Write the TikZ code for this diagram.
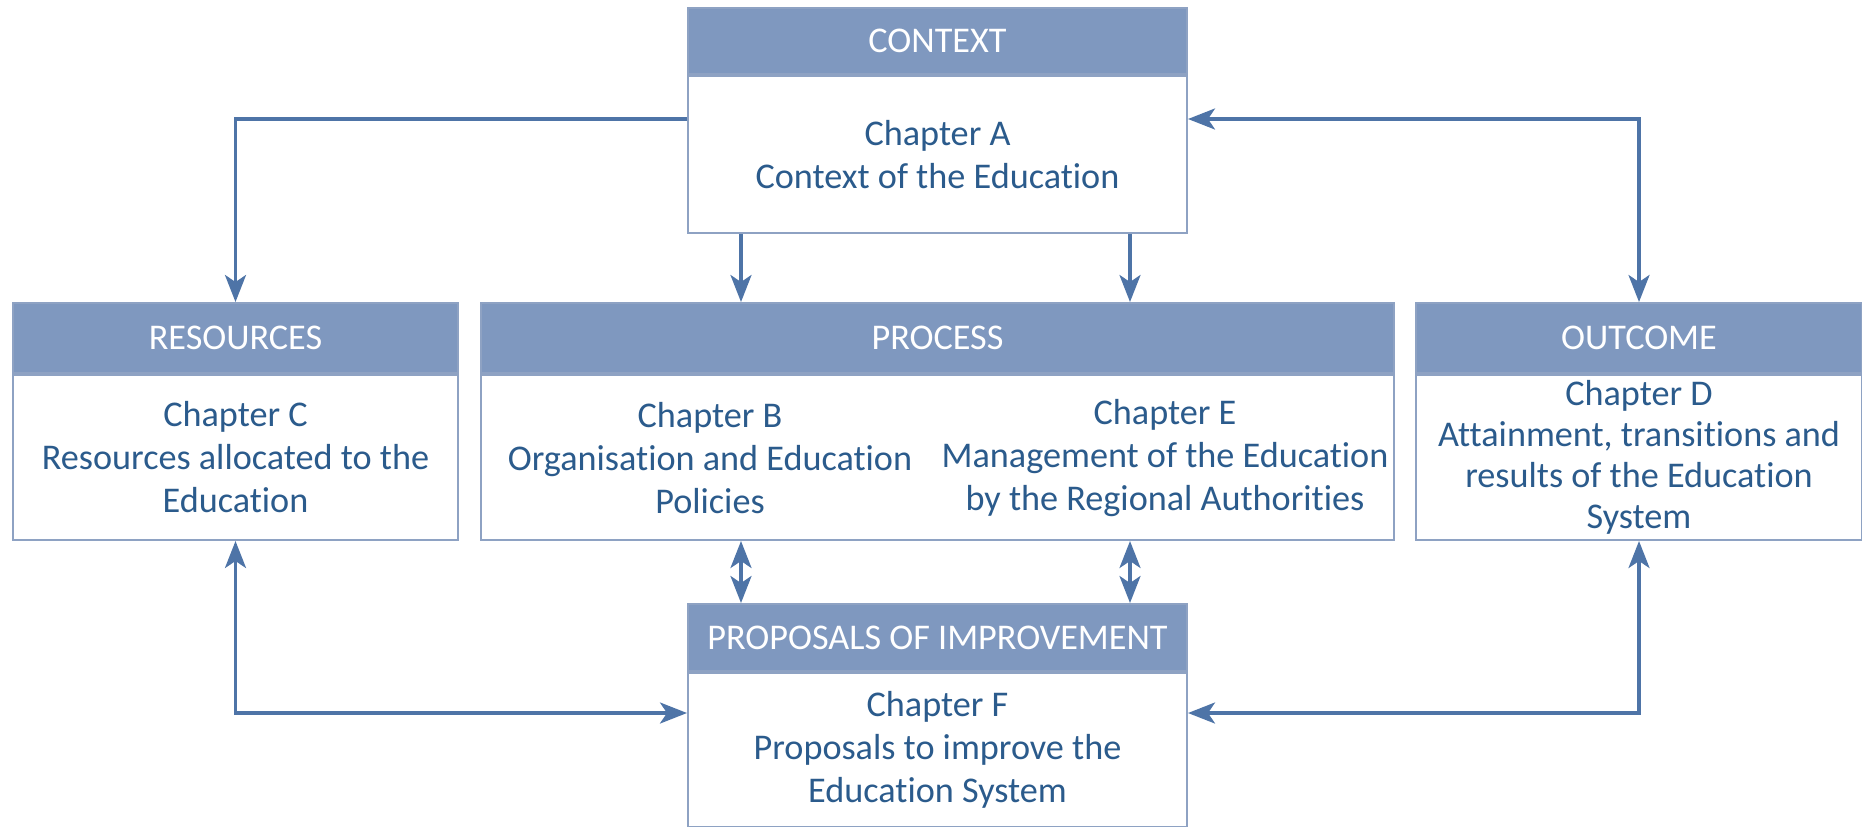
\documentclass[tikz,border=0pt]{standalone}
\usepackage{fontspec}
\setmainfont[Ligatures={NoCommon}]{Carlito}
\usepackage{tikz}
\usetikzlibrary{arrows.meta,positioning}

\definecolor{headblue}{HTML}{7F98BF}
\definecolor{edgeblue}{HTML}{8EA2C3}
\definecolor{textblue}{HTML}{2B5B8C}
\definecolor{arrowblue}{HTML}{4E74A7}

\begin{document}
\begin{tikzpicture}[x=0.5pt,y=-0.5pt,
                    >={Stealth[length=13.5pt,width=10.5pt,inset=3.5pt]},
                    font=\fontsize{18.1}{21.5}\selectfont]
  \tikzstyle{head}=[rectangle,fill=headblue,draw=edgeblue,line width=1pt,
                    text=white,inner sep=0pt,anchor=north west]
  \tikzstyle{body}=[rectangle,draw=edgeblue,line width=1pt,fill=white,
                    text=textblue,align=center,inner sep=0pt]
  \tikzstyle{link}=[draw=arrowblue,line width=1.7pt]

  \useasboundingbox (0,0) rectangle (1862,826);

  % guide lines for the connectors
  \coordinate (topline) at (0,119);
  \coordinate (botline) at (0,713);
  \coordinate (lcol)    at (741,0);
  \coordinate (rcol)    at (1130,0);

  \node[head,minimum width=249.5pt,minimum height=33pt]   (ctxhead)  at (687,7)    {CONTEXT};
  \node[body,minimum width=249.5pt,minimum height=78.5pt] (ctx)  [below=0pt of ctxhead]
       {Chapter A\\Context of the Education};

  \node[head,minimum width=222.5pt,minimum height=35pt]   (reshead)  at (12,302)   {RESOURCES};
  \node[body,minimum width=222.5pt,minimum height=82.5pt] (res)  [below=0pt of reshead]
       {Chapter C\\Resources allocated to the\\Education};

  \node[head,minimum width=456.5pt,minimum height=35pt]   (prochead) at (480,302)  {PROCESS};
  \node[body,minimum width=456.5pt,minimum height=82.5pt] (proc) [below=0pt of prochead] {};
  \node[text=textblue,align=center] (chapb) at (710,458)
       {Chapter B\\Organisation and Education\\Policies};
  \node[text=textblue,align=center] (chape) at (1165,458)
       {Chapter E\\Management of the Education\\by the Regional Authorities};

  \node[head,minimum width=223pt,minimum height=35pt]     (outhead)  at (1415,302) {OUTCOME};
  \node[body,minimum width=223pt,minimum height=82.5pt,
        font=\fontsize{18.1}{20.5}\selectfont]            (out)  [below=0pt of outhead]
       {Chapter D\\Attainment, transitions and\\results of the Education\\System};

  \node[head,minimum width=249.5pt,minimum height=33.5pt] (prophead) at (687,603)  {PROPOSALS OF IMPROVEMENT};
  \node[body,minimum width=249.5pt,minimum height=77pt]   (prop) [below=0pt of prophead]
       {Chapter F\\Proposals to improve the\\Education System};

  \draw[link,->]  (ctx.west |- topline) -| (reshead.north);
  \draw[link,<->] (ctx.east |- topline) -| (outhead.north);

  \draw[link,->]  (ctx.south -| lcol) -- (prochead.north -| lcol);
  \draw[link,->]  (ctx.south -| rcol) -- (prochead.north -| rcol);

  \draw[link,<->] (proc.south -| lcol) -- (prophead.north -| lcol);
  \draw[link,<->] (proc.south -| rcol) -- (prophead.north -| rcol);

  \draw[link,<->] (res.south) |- (prop.west |- botline);
  \draw[link,<->] (out.south) |- (prop.east |- botline);
\end{tikzpicture}
\end{document}
